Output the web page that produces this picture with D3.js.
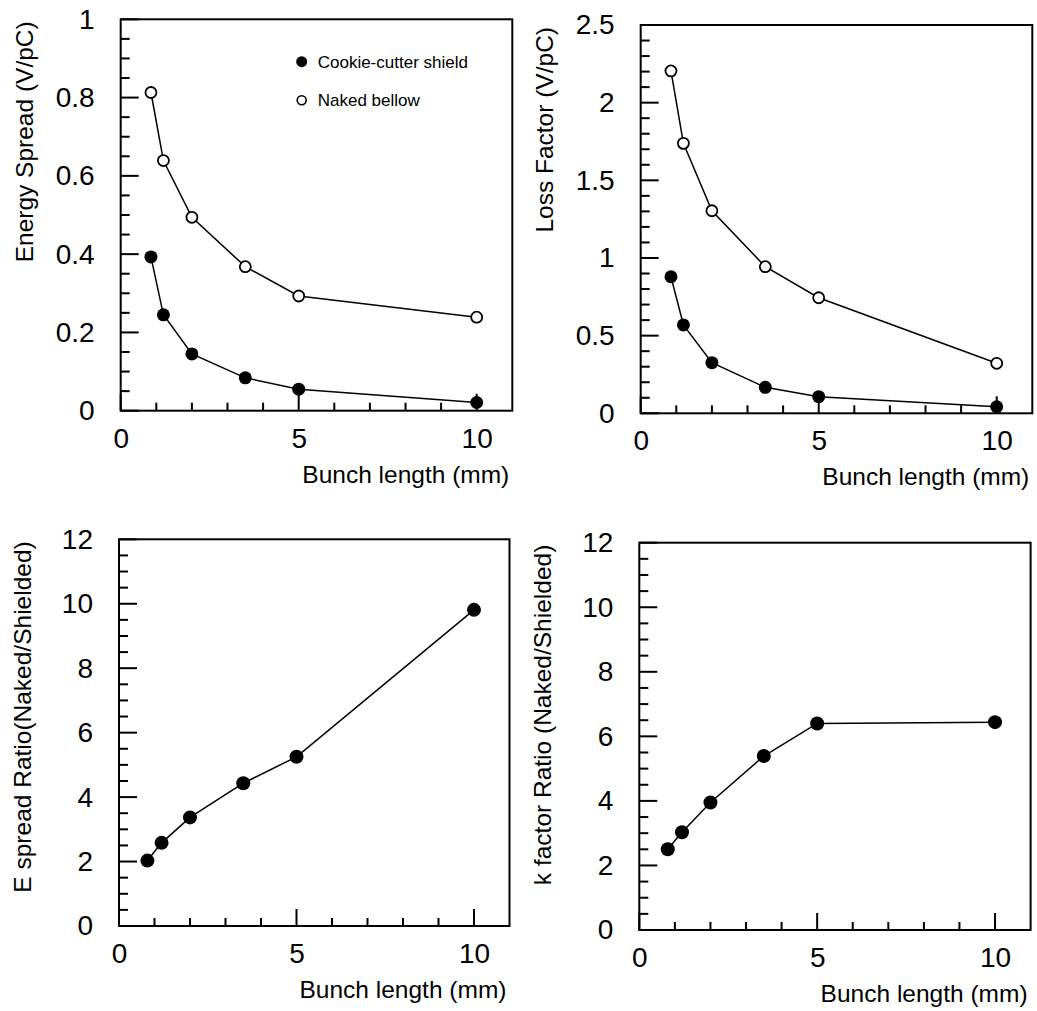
<!DOCTYPE html>
<html lang="en">
<head>
<meta charset="UTF-8">
<title>Bellow wakefield: shielded vs naked</title>
<script src="https://d3js.org/d3.v7.min.js"></script>
<style>
  body { margin: 0; background: #fff; }
  svg { font-family: "Liberation Sans", Arial, Helvetica, sans-serif; }
</style>
</head>
<body>
<svg width="1037" height="1011"></svg>
<script>
// bunch lengths (mm)
var bunchTop = [0.85, 1.2, 2, 3.5, 5, 10];
var bunchRatio = [0.8, 1.2, 2, 3.5, 5, 10];

// energy spread (V/pC)
var espreadShielded = [0.393, 0.245, 0.145, 0.084, 0.055, 0.021];
var espreadNaked = [0.813, 0.639, 0.494, 0.368, 0.293, 0.239];

// loss factor (V/pC)
var lossShielded = [0.879, 0.569, 0.326, 0.167, 0.107, 0.042];
var lossNaked = [2.204, 1.738, 1.304, 0.944, 0.744, 0.322];

// ratios naked / shielded
var espreadRatio = [2.03, 2.58, 3.37, 4.43, 5.25, 9.81];
var kRatio = [2.50, 3.03, 3.95, 5.39, 6.40, 6.44];

var xLabels = [0, 5, 10];
var xMinor = [1, 2, 3, 4, 6, 7, 8, 9];

var svg = d3.select("svg");

function styleAxis(sel) {
    sel.select(".domain").remove();
    sel.selectAll(".tick line").remove();
    sel.attr("font-family", null).attr("font-size", 28);
    sel.selectAll("text").attr("fill", "#000");
}

function panel(opt) {
    var g = svg.append("g");
    var x = d3.scaleLinear().domain([0, 11]).range([opt.left, opt.right]);
    var y = d3.scaleLinear().domain(opt.yDomain).range([opt.bottom, opt.top]);

    var nMinor = Math.round((opt.yDomain[1] - opt.yDomain[0]) / opt.yMinorStep);
    var perMajor = Math.round(opt.yMajorStep / opt.yMinorStep);
    var yMinor = d3.range(nMinor + 1).map(function(i) { return opt.yDomain[0] + i * opt.yMinorStep; });
    var yMajor = yMinor.filter(function(v, i) { return i % perMajor === 0; });

    // frame
    g.append("rect")
        .attr("x", opt.left).attr("y", opt.top)
        .attr("width", opt.right - opt.left).attr("height", opt.bottom - opt.top)
        .attr("fill", "none").attr("stroke", "#000").attr("stroke-width", 2);

    // tick marks pointing into the frame, as thin filled bars
    g.append("g").selectAll("rect").data(yMinor).enter().append("rect")
        .attr("x", opt.left)
        .attr("y", function(v) { return y(v) - 1; })
        .attr("width", function(v, i) { return i % perMajor === 0 ? 18 : 9; })
        .attr("height", 2)
        .attr("fill", "#000");
    g.append("g").selectAll("rect").data(xMinor.concat(xLabels)).enter().append("rect")
        .attr("x", function(v) { return x(v) - 1; })
        .attr("y", function(v) { return opt.bottom - (v % 5 === 0 ? 17 : 8); })
        .attr("width", 2)
        .attr("height", function(v) { return v % 5 === 0 ? 17 : 8; })
        .attr("fill", "#000");

    // tick labels via d3 axes
    g.append("g")
        .attr("transform", "translate(" + opt.left + ",0)")
        .call(d3.axisLeft(y).tickValues(yMajor).tickSize(0).tickPadding(26)
            .tickFormat(function(d) { return d3.format("~g")(+d.toFixed(2)); }))
        .call(styleAxis);
    g.append("g")
        .attr("transform", "translate(0," + opt.bottom + ")")
        .call(d3.axisBottom(x).tickValues(xLabels).tickSize(0).tickPadding(17))
        .call(styleAxis);

    // axis titles
    g.append("text")
        .attr("x", opt.right - 3)
        .attr("y", opt.bottom + 72)
        .attr("text-anchor", "end")
        .attr("font-size", 24.5)
        .text("Bunch length (mm)");

    g.append("text")
        .attr("transform", "translate(" + (opt.left - 88) + "," + (opt.top + 2) + ") rotate(-90)")
        .attr("text-anchor", "end")
        .attr("font-size", 24.5)
        .text(opt.yTitle);

    var line = d3.line()
        .x(function(d) { return x(d[0]); })
        .y(function(d) { return y(d[1]); });

    opt.series.forEach(function(s) {
        var pts = d3.zip(opt.xs, s.values);
        g.append("path")
            .datum(pts)
            .attr("d", line)
            .attr("fill", "none")
            .attr("stroke", "#000")
            .attr("stroke-width", 1.5);
        g.selectAll(null).data(pts).enter().append("circle")
            .attr("cx", function(d) { return x(d[0]); })
            .attr("cy", function(d) { return y(d[1]); })
            .attr("r", s.open ? 5.5 : s.r)
            .attr("fill", s.open ? "#fff" : "#000")
            .attr("stroke", "#000")
            .attr("stroke-width", s.open ? 1.8 : 0);
    });
    return g;
}

var p1 = panel({
    left: 120.7, right: 512.3, top: 19.3, bottom: 410.7,
    yDomain: [0, 1], yMajorStep: 0.2, yMinorStep: 0.05,
    yTitle: "Energy Spread (V/pC)",
    xs: bunchTop,
    series: [{values: espreadNaked, open: true}, {values: espreadShielded, open: false, r: 6.5}]
});

panel({
    left: 640.7, right: 1032.3, top: 25, bottom: 413.3,
    yDomain: [0, 2.5], yMajorStep: 0.5, yMinorStep: 0.1,
    yTitle: "Loss Factor (V/pC)",
    xs: bunchTop,
    series: [{values: lossNaked, open: true}, {values: lossShielded, open: false, r: 6.5}]
});

panel({
    left: 119, right: 509.5, top: 539.3, bottom: 926,
    yDomain: [0, 12], yMajorStep: 2, yMinorStep: 0.5,
    yTitle: "E spread Ratio(Naked/Shielded)",
    xs: bunchRatio,
    series: [{values: espreadRatio, open: false, r: 7}]
});

panel({
    left: 639.3, right: 1030.6, top: 542.7, bottom: 930,
    yDomain: [0, 12], yMajorStep: 2, yMinorStep: 0.5,
    yTitle: "k factor Ratio (Naked/Shielded)",
    xs: bunchRatio,
    series: [{values: kRatio, open: false, r: 7}]
});

// legend in the first panel
var legend = [
    {label: "Cookie-cutter shield", open: false},
    {label: "Naked bellow", open: true}
];
var lg = p1.append("g").attr("transform", "translate(301.7,61.7)");
legend.forEach(function(d, i) {
    lg.append("circle")
        .attr("cx", 0).attr("cy", i * 38.5)
        .attr("r", d.open ? 4.5 : 5.5)
        .attr("fill", d.open ? "#fff" : "#000")
        .attr("stroke", "#000")
        .attr("stroke-width", d.open ? 1.6 : 0);
    lg.append("text")
        .attr("x", 16).attr("y", i * 38.5 + 6)
        .attr("font-size", 17)
        .text(d.label);
});
</script>
</body>
</html>
